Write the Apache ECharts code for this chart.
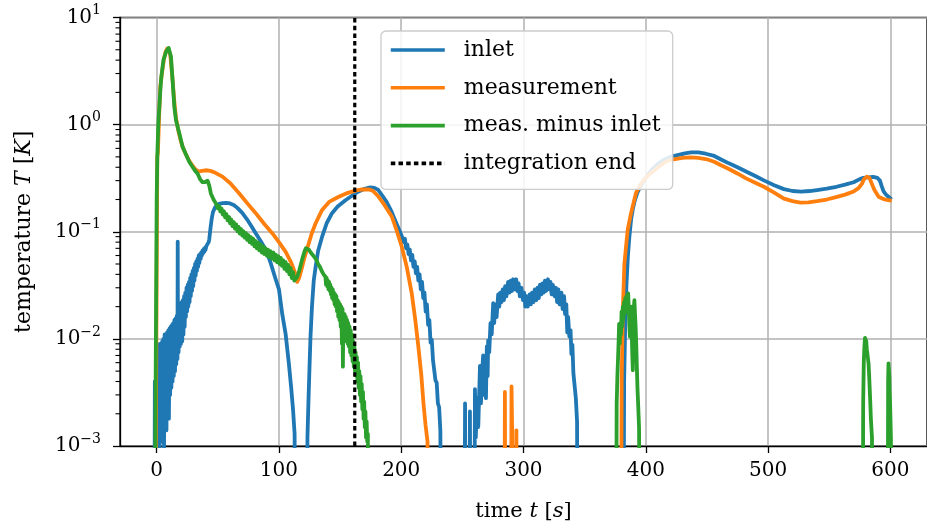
<!DOCTYPE html>
<html><head><meta charset="utf-8">
<script src="https://cdn.jsdelivr.net/npm/echarts@6/dist/echarts.min.js"></script>
<style>html,body{margin:0;padding:0;background:#fff}#c{width:927px;height:527px}</style>
</head><body><div id="c"></div>
<script>
const seriesNames = ['inlet', 'measurement', 'meas. minus inlet', 'integration end'];
const seriesColors = ['#1f77b4', '#ff7f0e', '#2ca02c', '#000000'];
const xTickValues = [0, 100, 200, 300, 400, 500, 600];
const yMinorTicks = [0.002,0.003,0.004,0.005,0.006,0.007,0.008,0.009,
  0.02,0.03,0.04,0.05,0.06,0.07,0.08,0.09,
  0.2,0.3,0.4,0.5,0.6,0.7,0.8,0.9,
  2,3,4,5,6,7,8,9];
const integrationEnd = [[162, 0.001], [162, 10]];

const inlet = [
[-2,1e-5],[-1.5,0.004],[-1,1e-5],[-0.5,0.006],[0,0.0009],[0.5,0.0085],[1,0.0012],[1.5,0.008],[2,1e-5],[2.5,0.009],
[3,0.0015],[3.5,0.0088],[4,0.0011],[4.5,0.0095],[5,0.002],[5.5,0.01],[6,0.0009],[6.5,0.011],[7,0.0022],[7.5,0.0105],
[8,0.0014],[8.5,0.0115],[9,0.0025],[9.5,0.012],[10,0.0018],[10.5,0.0125],[11,0.003],[11.5,0.013],[12,0.0035],[12.5,0.0135],
[13,0.004],[13.5,0.014],[14,0.0045],[14.5,0.015],[15,0.005],[15.5,0.0155],[16,0.0058],[16.5,0.0165],[17,0.0065],[17.2,0.081],
[17.4,0.012],[17.9,0.0075],[18.4,0.019],[18.9,0.0085],[19.4,0.02],[19.9,0.009],[20.4,0.022],[20.9,0.0095],[21.4,0.023],[21.9,0.011],
[22.4,0.025],[22.9,0.013],[23.4,0.027],[23.9,0.016],[24.4,0.03],[24.9,0.018],[25.4,0.032],[25.9,0.02],[26.4,0.034],[26.9,0.022],
[27.4,0.037],[27.9,0.025],[28.4,0.04],[28.9,0.028],[29.4,0.043],[29.9,0.031],[30.4,0.046],[30.9,0.035],[31.4,0.05],[31.9,0.039],
[32.4,0.053],[32.9,0.043],[33.4,0.056],[33.9,0.047],[34.4,0.06],[34.9,0.051],[35.5,0.062],[36,0.056],[36.5,0.064],[37,0.06],
[37.5,0.067],[38,0.063],[38.5,0.069],[39,0.065],[39.5,0.071],[40,0.068],[40.5,0.073],[41,0.071],[41.5,0.076],[42,0.075],
[42.5,0.08],[43,0.085],[44,0.108],[45,0.132],[46,0.152],[47.5,0.167],[49,0.176],[51,0.182],[54,0.185],[57,0.186],
[60,0.184],[63,0.178],[66,0.167],[70,0.15],[74,0.13],[78,0.11],[81,0.097],[85,0.082],[89.2,0.068],[93,0.052],
[97.3,0.036],[100,0.029],[102.7,0.017],[105.5,0.011],[108.1,0.0059],[110,0.0035],[111.5,0.0022],[112.8,0.0013],[113.6,1e-5],[122.8,1e-5],
[123.3,0.0012],[124.2,0.0028],[125,0.0055],[125.8,0.0105],[127,0.02],[128.5,0.0355],[130,0.047],[132,0.066],[135.3,0.09],[139,0.12],
[143.4,0.149],[148,0.172],[154.4,0.197],[160,0.218],[165.2,0.238],[170,0.252],[174.7,0.26],[178,0.257],[181,0.247],[184.2,0.22],
[188,0.19],[192,0.155],[196,0.12],[200,0.094],[202,0.08],[203,0.086],[204,0.07],[205,0.076],[206,0.062],[207,0.068],
[208,0.054],[209,0.061],[210,0.047],[211,0.053],[212,0.041],[213,0.047],[214,0.035],[215,0.04],[216,0.029],[217,0.034],
[218,0.024],[219,0.027],[220,0.018],[221,0.021],[222,0.0135],[223,0.015],[224,0.0092],[225,0.0098],[226,0.0063],[227,0.0064],
[228,0.0041],[229,0.0039],[230,0.0025],[231,0.0023],[232,0.0014],[233,1e-5],
[251.5,1e-5],[252.2,0.0025],[252.8,1e-5],[255.5,1e-5],[256.2,0.0021],[256.8,1e-5],[259.5,1e-5],[260.3,0.0034],[261,0.0012],[262,0.0028],
[263,0.0015],[264.4,0.0056],[265.2,0.0025],[266,0.0045],[267,0.007],[267.8,0.003],[268.5,0.0065],[269.3,0.0028],[270,0.0085],[270.7,0.0045],
[271.1,0.0097],[272,0.0075],[273,0.014],[274,0.011],[275.2,0.0215],[276,0.014],[277,0.021],[278,0.016],[279.3,0.026],[280.2,0.02],
[281,0.027],[282,0.022],[283,0.029],[284,0.023],[285,0.031],[286,0.025],[287.4,0.034],[288.5,0.027],[289.5,0.035],[290.5,0.028],
[291.5,0.036],[292.9,0.029],[294,0.036],[295,0.028],[296,0.033],[297,0.025],[298.3,0.03],[299.5,0.023],[300.5,0.027],[301.5,0.02],
[302.4,0.025],[303.5,0.02],[305,0.026],[306,0.021],[307,0.027],[308,0.022],[309.2,0.029],[310.5,0.023],[311.5,0.03],[312.5,0.024],
[313.5,0.032],[314.6,0.026],[315.5,0.033],[316.5,0.027],[317.5,0.035],[318.5,0.028],[320,0.036],[321,0.029],[322,0.034],[323,0.026],
[324,0.032],[325.5,0.025],[326.5,0.03],[327.5,0.022],[328.5,0.029],[329.5,0.021],[331,0.027],[332,0.019],[333.2,0.025],[334,0.017],
[335,0.021],[335.8,0.0115],[336.5,0.016],[337.5,0.0105],[338.5,0.012],[339.2,0.0072],[340,0.0088],[340.8,0.0048],[341.8,0.0047],[342.8,0.0028],
[343.8,0.0017],[344.5,1e-5],
[381.5,1e-5],[382.3,0.004],[383.2,0.014],[384.2,0.032],[385.4,0.06],[386.6,0.09],[388,0.13],[389.5,0.165],[391,0.195],[393,0.23],
[396,0.27],[400,0.32],[405,0.38],[410,0.43],[415,0.47],[420,0.5],[426,0.52],[432,0.54],[437,0.55],[443,0.55],
[449,0.535],[456,0.51],[462,0.47],[468,0.435],[475,0.4],[482,0.365],[490,0.33],[497,0.3],[505,0.272],[513,0.25],
[520,0.24],[527,0.237],[534,0.24],[540,0.245],[548,0.253],[556,0.263],[563,0.275],[570,0.29],[575,0.31],[578,0.318],
[582,0.322],[586,0.325],[589.5,0.318],[591.5,0.3],[593,0.265],[594.5,0.238],[596.5,0.222],[598.5,0.212],[601,0.2]
];

const measurement = [
[-1.2,1e-5],[-0.5,0.003],[0.5,0.5],[1,0.55],[2,1.2],[3,2.3],[4.6,3.2],[6,4.1],[7.1,4.7],[8.5,5.1],
[9.8,5.2],[11,4.6],[12,3.5],[13,2.6],[14.5,1.6],[15.8,1.15],[17.5,0.9],[19.5,0.72],[21.2,0.62],[23.5,0.54],
[26.6,0.46],[29.5,0.41],[32,0.38],[34.5,0.365],[37,0.37],[40,0.375],[44,0.37],[48,0.355],[53.8,0.327],[60,0.285],
[67.4,0.229],[74,0.185],[81,0.149],[88,0.118],[94.5,0.097],[100,0.08],[105.5,0.065],[109.5,0.053],[113,0.042],[114.9,0.034],
[116.5,0.037],[118.5,0.045],[121,0.058],[124.4,0.078],[127,0.098],[130,0.12],[135.3,0.16],[141,0.19],[148.9,0.212],[155,0.228],
[162.5,0.242],[168,0.248],[173.3,0.249],[177,0.24],[181.5,0.212],[186,0.18],[192.4,0.138],[196,0.105],[200.5,0.072],[204.5,0.047],
[208.6,0.0266],[211.5,0.015],[214,0.0085],[216.5,0.0045],[218.2,0.0025],[219.8,0.0016],[221.5,0.0011],[222.3,1e-5],
[284.2,1e-5],[284.8,0.0032],[285.4,1e-5],[289.6,1e-5],[290.2,0.0036],[290.8,0.0012],[291.3,1e-5],[293.8,1e-5],[294.2,0.0014],[294.6,1e-5],
[379.5,1e-5],[380.3,0.004],[381.2,0.018],[382.5,0.05],[385.2,0.104],[388,0.15],[392,0.23],[396,0.28],[400,0.32],[405,0.36],
[410,0.4],[415,0.44],[419.2,0.466],[425,0.48],[430,0.49],[436.8,0.495],[443,0.49],[450,0.475],[455.9,0.45],[462,0.415],
[468,0.385],[474.9,0.35],[482,0.315],[490,0.285],[496.6,0.263],[505,0.232],[513,0.204],[520,0.193],[526.5,0.187],[533,0.188],
[540,0.193],[548,0.2],[556.4,0.212],[563,0.222],[570,0.238],[574,0.255],[576.7,0.28],[578.5,0.31],[580.8,0.327],[583,0.318],
[584.9,0.28],[587,0.245],[590.4,0.212],[594,0.203],[597.1,0.198],[601.2,0.195]
];

const measMinusInlet = [
[-1.5,1e-5],[-1,0.002],[-0.5,0.02],[0,0.2],[0.5,0.5],[0.9,0.52],[1.3,1.0],[2.2,1.47],[3,2.1],[3.8,2.8],
[5.5,4.0],[7.7,4.8],[9.8,5.2],[11.7,4.3],[13,2.6],[14.4,1.47],[15.8,1.1],[18.5,0.83],[21.2,0.62],[23.5,0.54],
[26.6,0.45],[29.5,0.4],[31.5,0.37],[33.4,0.35],[35.5,0.31],[37.5,0.29],[39.5,0.29],[41.6,0.3],[43,0.27],[44.3,0.228],
[46.5,0.2],[48.4,0.184],[50,0.166],[51,0.174],[52,0.155],[53,0.165],[54,0.145],[55,0.155],[56,0.136],[57,0.146],
[58,0.128],[59.3,0.137],[60,0.12],[61,0.13],[62,0.113],[63,0.123],[64,0.107],[65,0.117],[66,0.101],[67,0.111],
[68,0.096],[69,0.106],[70.1,0.092],[71,0.101],[72,0.088],[73,0.097],[74,0.084],[75,0.093],[76,0.08],[77,0.089],
[78,0.077],[79,0.086],[80,0.073],[81,0.082],[82,0.07],[83,0.079],[84,0.067],[85,0.076],[86,0.064],[87,0.073],
[88,0.062],[89,0.07],[90,0.06],[91,0.068],[92,0.058],[93,0.066],[94.5,0.056],[95.5,0.064],[96.5,0.054],[97.5,0.061],
[98.5,0.052],[99.5,0.059],[100.5,0.05],[101.5,0.057],[102.5,0.048],[103.5,0.054],[104.5,0.045],[105.5,0.052],[106.5,0.043],[107.5,0.049],
[108.5,0.04],[109.5,0.046],[110.5,0.037],[111.5,0.042],[112.5,0.035],[113.6,0.034],[115,0.038],[116.5,0.043],[118,0.05],[119.5,0.058],
[121,0.066],[122,0.07],[123,0.071],[124.5,0.068],[126,0.064],[127.5,0.062],[129,0.058],[130.5,0.055],[132,0.05],[133.5,0.047],
[135,0.043],[136.5,0.04],[138,0.038],[138.5,0.032],[139,0.037],[139.5,0.031],[140,0.035],[140.5,0.029],[141,0.034],[141.5,0.028],
[142,0.032],[142.5,0.026],[143,0.03],[143.5,0.024],[144,0.029],[144.5,0.023],[145,0.027],[145.5,0.021],[146,0.026],[146.5,0.02],
[147,0.025],[147.5,0.018],[148,0.023],[148.5,0.016],[149,0.022],[149.5,0.015],[150,0.021],[150.5,0.013],[151,0.02],[151.5,0.009],
[152,0.019],[152.3,0.0055],[152.7,0.017],[153.2,0.011],[153.7,0.017],[154.2,0.01],[154.7,0.016],[155.2,0.0095],[155.7,0.015],[156.2,0.009],
[156.7,0.014],[157.2,0.0085],[157.7,0.013],[158.2,0.0075],[158.7,0.012],[159.2,0.007],[159.7,0.011],[160.2,0.0062],[160.7,0.0095],[161.2,0.0055],
[161.7,0.0085],[162.2,0.005],[162.7,0.0075],[163.2,0.0045],[163.7,0.0068],[164.2,0.004],[164.7,0.006],[165.2,0.0035],[165.7,0.005],[166.2,0.003],
[166.7,0.0045],[167.2,0.0026],[167.7,0.0038],[168.2,0.0022],[168.7,0.0032],[169.2,0.0018],[169.7,0.0026],[170.2,0.0015],[170.7,0.0021],[171.2,0.0012],
[171.7,0.0017],[172.2,0.0011],[172.7,0.0013],[173.3,1e-5],
[375.6,1e-5],[376.2,0.0025],[376.8,0.0045],[377.3,0.0065],[377.8,0.0095],[378.2,0.0138],[378.7,0.009],[379.2,0.014],[379.7,0.011],[380.2,0.018],
[380.7,0.013],[381.2,0.02],[381.7,0.015],[382.2,0.022],[382.7,0.017],[383.2,0.024],[383.7,0.019],[384.2,0.025],[384.7,0.018],[385.2,0.024],
[385.6,0.0266],[386.1,0.019],[386.5,0.014],[387,0.0105],[387.5,0.016],[388,0.02],[388.5,0.012],[389,0.007],[389.4,0.0051],[389.8,0.012],
[390.3,0.02],[390.7,0.023],[391.2,0.017],[391.7,0.013],[392.2,0.009],[392.7,0.0055],[393.2,0.0035],[393.8,0.0024],[394.5,0.0015],[395.6,1e-5],
[577.3,1e-5],[577.8,0.0025],[578.3,0.006],[578.8,0.0085],[579.3,0.0102],[579.8,0.0105],[580.3,0.0095],[580.8,0.008],[581.3,0.0072],[581.8,0.0064],
[582.2,0.0059],[582.7,0.0045],[583.2,0.0033],[583.7,0.0024],[584.1,0.0018],[585,0.0012],[585.7,1e-5],
[597.8,1e-5],[598.2,0.004],[598.5,0.0059],[598.9,0.005],[599.2,0.0045],[599.5,0.0032],[599.8,0.0025],[600.5,0.0012],[601,1e-5]
];

const FONT = 'DejaVu Serif';
const X_MIN = -30, X_MAX = 630;
const chart = echarts.init(document.getElementById('c'));

function lineSeries(i, data, extra) {
  return Object.assign({
    type: 'line', name: seriesNames[i], data: data,
    symbol: 'none', showSymbol: false, clip: true,
    lineStyle: { width: 3.8, color: seriesColors[i], join: 'round' },
    itemStyle: { color: seriesColors[i] },
    emphasis: { disabled: true }, z: 2 + i
  }, extra || {});
}

const option = {
  animation: false,
  backgroundColor: '#ffffff',
  grid: { left: 120, right: -4, top: 17.5, bottom: 81, show: true, borderColor: '#000', borderWidth: 1.3, backgroundColor: 'transparent' },
  xAxis: {
    type: 'value', min: X_MIN, max: X_MAX,
    name: 'time {i|t} [{i|s}]', nameLocation: 'middle', nameGap: 55,
    nameTextStyle: { fontFamily: FONT, fontSize: 21, color: '#000', rich: { i: { fontFamily: FONT, fontSize: 21, fontStyle: 'italic', color: '#000' } } },
    axisLine: { show: true, onZero: false, lineStyle: { color: '#000', width: 1.3 } },
    axisTick: { show: true, inside: false, length: 7, customValues: xTickValues, lineStyle: { color: '#000', width: 1.3 } },
    axisLabel: { customValues: xTickValues, fontFamily: FONT, fontSize: 20, color: '#000', margin: 15 },
    splitLine: { show: true, lineStyle: { color: '#b0b0b0', width: 1.5 } }
  },
  yAxis: {
    type: 'log', logBase: 10, min: 0.001, max: 10,
    name: 'temperature {i|T} [{i|K}]', nameLocation: 'middle', nameGap: 85,
    nameTextStyle: { fontFamily: FONT, fontSize: 22, color: '#000', rich: { i: { fontFamily: FONT, fontSize: 22, fontStyle: 'italic', color: '#000' } } },
    axisLine: { show: true, onZero: false, lineStyle: { color: '#000', width: 1.3 } },
    axisTick: { show: true, inside: false, length: 7, lineStyle: { color: '#000', width: 1.3 } },
    axisLabel: {
      margin: 19, color: '#000',
      formatter: function (v) {
        const e = Math.round(Math.log10(v));
        return '{b|10}{s|' + (e < 0 ? '\u2212' + (-e) : String(e)) + '}';
      },
      rich: {
        b: { fontFamily: FONT, fontSize: 20, color: '#000' },
        s: { fontFamily: FONT, fontSize: 14, color: '#000', padding: [0, 0, 14, 0] }
      }
    },
    splitLine: { show: true, lineStyle: { color: '#b0b0b0', width: 1.5 } }
  },
  legend: {
    data: seriesNames, orient: 'vertical', left: 381, top: 31,
    padding: [7, 12, 14, 8], itemWidth: 54, itemHeight: 14, itemGap: 13.8,
    backgroundColor: 'rgba(255,255,255,0.85)', borderColor: '#cccccc', borderWidth: 1.3, borderRadius: 5,
    itemStyle: { opacity: 0 },
    lineStyle: { width: 3.6 },
    textStyle: { fontFamily: FONT, fontSize: 22, color: '#000', lineHeight: 24, padding: [0, 0, 0, 14] },
    selectedMode: false, z: 20
  },
  series: [
    lineSeries(0, inlet),
    lineSeries(1, measurement),
    lineSeries(2, measMinusInlet),
    lineSeries(3, integrationEnd, { lineStyle: { width: 3.2, color: '#000', type: [4.5, 3.2] } }),
    {
      type: 'custom', name: 'minor ticks', silent: true, clip: false, z: 10,
      data: yMinorTicks.map(v => [X_MIN, v]),
      renderItem: function (params, api) {
        const c = api.coord([api.value(0), api.value(1)]);
        return { type: 'line', shape: { x1: c[0] - 4.5, y1: c[1], x2: c[0], y2: c[1] }, style: { stroke: '#000', lineWidth: 1.1 } };
      }
    }
  ]
};
chart.setOption(option);
</script>
</body></html>
